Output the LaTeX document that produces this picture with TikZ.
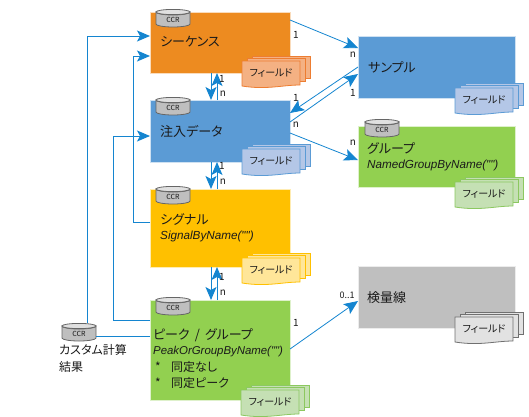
\documentclass[tikz,border=0pt]{standalone}
\usepackage{fontspec}
\setmainfont[RawFeature=+palt]{Noto Sans CJK JP}
\newfontfamily\latinit{Liberation Sans}
\usetikzlibrary{arrows.meta,calc}
\definecolor{arrowc}{HTML}{1485D0}
\definecolor{ordeep}{HTML}{ED8B20}
\definecolor{bldeep}{HTML}{5B9BD5}
\definecolor{yedeep}{HTML}{FFC000}
\definecolor{grdeep}{HTML}{92D050}
\definecolor{gydeep}{HTML}{BFBFBF}
\definecolor{txtc}{HTML}{1A1A1A}
\definecolor{orlight}{HTML}{F4B183}
\definecolor{orline}{HTML}{ED7D31}
\definecolor{bllight}{HTML}{B4C7E7}
\definecolor{blline}{HTML}{5B9BD5}
\definecolor{yelight}{HTML}{FFE699}
\definecolor{yeline}{HTML}{FFC000}
\definecolor{grlight}{HTML}{C5E0B4}
\definecolor{grline}{HTML}{8CC860}
\definecolor{gylight}{HTML}{E2E2E2}
\definecolor{gyline}{HTML}{707070}
\tikzset{
  box/.style={anchor=north west,inner sep=0pt,outer sep=0pt,draw=white!70!#1,line width=0.6pt,fill=#1},
  conn/.style={draw=arrowc,line width=1pt},
  arr/.style={conn,-{Stealth[length=13pt,width=11pt,inset=3pt]}},
  diag/.style={draw=arrowc,line width=0.8pt},
  diagarr/.style={diag,-{Stealth[length=14pt,width=12pt,inset=3pt]}},
  lab/.style={anchor=west,inner sep=0pt,font=\fontsize{13}{13}\selectfont,text=txtc},
  sublab/.style={anchor=west,inner sep=0pt,font=\fontsize{12}{12}\selectfont,text=txtc},
  itlab/.style={anchor=west,inner sep=0pt,font=\fontsize{11.7}{11.7}\selectfont\latinit\itshape,text=txtc},
  card/.style={inner sep=0pt,font=\fontsize{10}{10}\selectfont,text=txtc},
}
\newcommand{\ccrdb}[3]{%
  \node[anchor=north west,minimum width=34pt,minimum height=18pt,inner sep=0pt,outer sep=0pt] (#1) at (#2,#3) {};
  \draw[draw=black!60,fill=black!25,line width=0.8pt] (#2,#3+3) -- (#2,#3+15) arc[start angle=180,end angle=360,x radius=17,y radius=-3] -- (#2+34,#3+3) arc[start angle=0,end angle=-180,x radius=17,y radius=-3] -- cycle;
  \draw[draw=black!60,fill=black!12,line width=0.8pt] (#2+17,#3+3) ellipse[x radius=17,y radius=2.6];
  \node[inner sep=0pt,font=\fontsize{7}{7}\selectfont,text=txtc] (#1t) at (#2+17,#3+10.5) {CCR};
}
\newcommand{\fieldstack}[5]{%
  \begin{scope}[draw=#5,fill=#4,line width=0.8pt]
  \filldraw (#2+10,#3-5) -- (#2+68,#3-5) -- (#2+68,#3+17) -- (#2+10,#3+17) -- cycle;
  \filldraw (#2+5,#3-2.5) -- (#2+63,#3-2.5) -- (#2+63,#3+20) -- (#2+5,#3+20) -- cycle;
  \filldraw (#2,#3) -- (#2+58,#3) -- (#2+58,#3+24) .. controls (#2+40,#3+24) and (#2+25,#3+29) .. (#2,#3+25) -- cycle;
  \end{scope}
  \node[inner sep=0pt,font=\fontsize{10}{10}\selectfont,text=txtc] (#1) at (#2+29,#3+12.5) {フィールド};
}
\begin{document}
\begin{tikzpicture}[x=1pt,y=-1pt]
\useasboundingbox (0,0) rectangle (529,416);
% boxes
\node[box=ordeep,minimum width=140pt,minimum height=61pt] (seq) at (150,12) {};
\node[box=bldeep,minimum width=140pt,minimum height=62pt] (inj) at (150,100) {};
\node[box=yedeep,minimum width=140pt,minimum height=78pt] (sig) at (150,189) {};
\node[box=grdeep,minimum width=140pt,minimum height=100pt] (peak) at (150,300) {};
\node[box=bldeep,minimum width=157pt,minimum height=62pt] (sam) at (358,36) {};
\node[box=grdeep,minimum width=157pt,minimum height=61pt] (grp) at (358,126) {};
\node[box=gydeep,minimum width=157pt,minimum height=62pt] (std) at (358,266) {};
% cylinders
\ccrdb{cseq}{156}{9}
\ccrdb{cinj}{156}{97}
\ccrdb{csig}{156}{186}
\ccrdb{cpeak}{156}{297}
\ccrdb{cgrp}{365}{119}
\ccrdb{ccus}{62}{323}
% field stacks
\fieldstack{fseq}{242}{61}{orlight}{orline}
\fieldstack{finj}{242}{149}{bllight}{blline}
\fieldstack{fsig}{242}{258}{yelight}{yeline}
\fieldstack{fpeak}{241}{390}{grlight}{grline}
\fieldstack{fsam}{455}{88}{bllight}{blline}
\fieldstack{fgrp}{455}{182}{grlight}{grline}
\fieldstack{fstd}{455}{317}{gylight}{gyline}
% texts
\node[lab] (t1) at (160,42) {シーケンス};
\node[lab] (t2) at (160,131) {注入データ};
\node[lab] (t3) at (160,219) {シグナル};
\node[itlab] (t4) at (160,236) {SignalByName("")};
\node[lab] (t5) at (153,335) {ピーク\ \,/\ \,グループ};
\node[itlab,font=\fontsize{11.4}{11.4}\selectfont\latinit\itshape] (t6) at (153,352) {PeakOrGroupByName("")};
\node[sublab] (t7) at (155,367) {\makebox[16pt][l]{*}同定なし};
\node[sublab] (t8) at (155,383) {\makebox[16pt][l]{*}同定ピーク};
\node[lab] (t9) at (368,67) {サンプル};
\node[lab] (t10) at (367,148) {グループ};
\node[itlab] (t11) at (367,165) {NamedGroupByName("")};
\node[lab] (t12) at (367,298) {検量線};
\node[sublab] (t13) at (59,350) {カスタム計算};
\node[sublab] (t14) at (59,367) {結果};
% vertical connectors
\draw[arr] ([xshift=61pt]seq.south west) -- ([xshift=61pt]inj.north west);
\draw[arr] ([xshift=67pt]inj.north west) -- ([xshift=67pt]seq.south west);
\draw[arr] ([xshift=61pt]inj.south west) -- ([xshift=61pt]sig.north west);
\draw[arr] ([xshift=67pt]sig.north west) -- ([xshift=67pt]inj.south west);
\draw[arr] ([xshift=61pt]sig.south west) -- ([xshift=61pt]peak.north west);
\draw[arr] ([xshift=67pt]peak.north west) -- ([xshift=67pt]sig.south west);
% left connectors
\coordinate (c1) at (87,323);
\draw[arr] (c1) |- ([yshift=-24pt]seq.north west);
\draw[arr] ([yshift=-33pt]sig.north west) -| (133,56) -- ([yshift=-44pt]seq.north west);
\draw[arr] ([yshift=-20pt]peak.north west) -| (113,136) -- ([yshift=-36pt]inj.north west);
\draw[conn] (ccus.east |- 0,336) -- ([yshift=-36pt]peak.north west);
% diagonal connectors
\draw[diagarr] ([yshift=-8pt]seq.north east) -- ([yshift=-12pt]sam.north west);
\draw[diagarr] ([yshift=-31pt]sam.north west) -- ([yshift=-13pt]inj.north east);
\draw[diagarr] ([yshift=-22pt]inj.north east) -- ([yshift=-38pt]sam.north west);
\draw[diagarr] ([yshift=-33pt]inj.north east) -- ([yshift=-34pt]grp.north west);
\draw[diagarr] ([yshift=-49pt]peak.north east) -- ([yshift=-35pt]std.north west);
% cardinalities
\node[card] (a1) at (222,79) {1};
\node[card] (a2) at (223,94) {n};
\node[card] (a3) at (222,166) {1};
\node[card] (a4) at (223,182) {n};
\node[card] (a5) at (222,277) {1};
\node[card] (a6) at (223,293) {n};
\node[card] (b1) at (296,35) {1};
\node[card] (b2) at (353,55) {n};
\node[card] (b3) at (296,98) {1};
\node[card] (b4) at (353,93) {1};
\node[card] (b5) at (296,125) {n};
\node[card] (b6) at (353,143) {n};
\node[card] (b7) at (296,323) {1};
\node[card,font=\fontsize{9}{9}\selectfont] (b8) at (347,295) {0..1};
\end{tikzpicture}
\end{document}
